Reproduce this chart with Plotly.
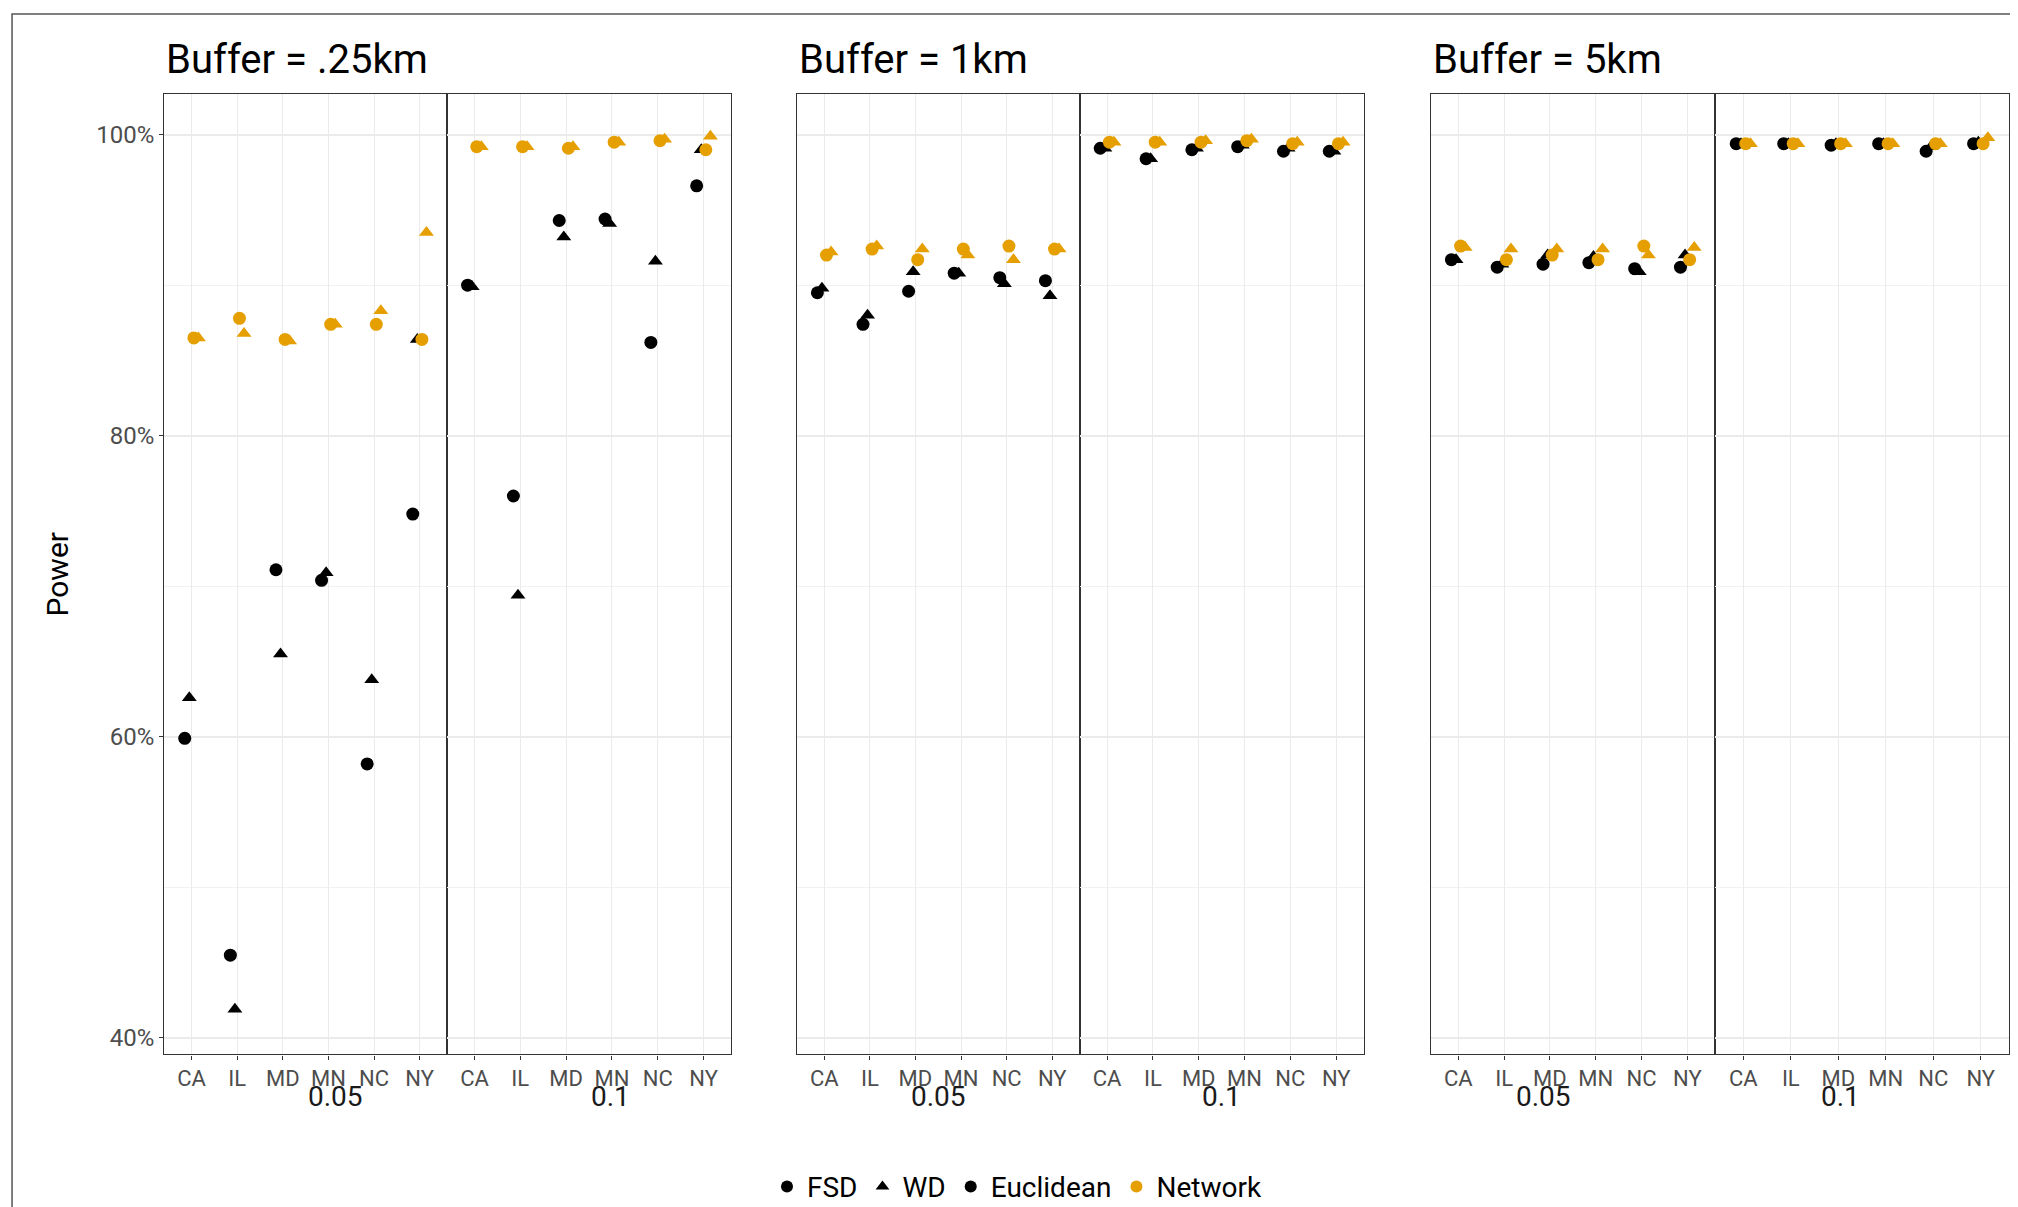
import plotly.graph_objects as go

states = ["CA", "IL", "MD", "MN", "NC", "NY"]
buffers = ["Buffer = .25km", "Buffer = 1km", "Buffer = 5km"]
alphas = ["0.05", "0.1"]

euc_fsd = {
 0: {"0.05": [59.9, 45.5, 71.1, 70.4, 58.2, 74.8], "0.1": [90.0, 76.0, 94.3, 94.4, 86.2, 96.6]},
 1: {"0.05": [89.5, 87.4, 89.6, 90.8, 90.5, 90.3], "0.1": [99.1, 98.4, 99.0, 99.2, 98.9, 98.9]},
 2: {"0.05": [91.7, 91.2, 91.4, 91.5, 91.1, 91.2], "0.1": [99.4, 99.4, 99.3, 99.4, 98.9, 99.4]},
}
euc_wd = {
 0: {"0.05": [62.6, 41.9, 65.5, 70.9, 63.8, 86.4], "0.1": [89.9, 69.4, 93.2, 94.1, 91.6, 99.0]},
 1: {"0.05": [89.8, 88.0, 90.9, 90.8, 90.1, 89.3], "0.1": [99.1, 98.4, 99.1, 99.3, 99.1, 98.9]},
 2: {"0.05": [91.7, 91.4, 92.0, 91.9, 90.9, 92.0], "0.1": [99.4, 99.4, 99.4, 99.4, 99.2, 99.5]},
}
net_fsd = {
 0: {"0.05": [86.5, 87.8, 86.4, 87.4, 87.4, 86.4], "0.1": [99.2, 99.2, 99.1, 99.5, 99.6, 99.0]},
 1: {"0.05": [92.0, 92.4, 91.7, 92.4, 92.6, 92.4], "0.1": [99.5, 99.5, 99.5, 99.6, 99.4, 99.4]},
 2: {"0.05": [92.6, 91.7, 92.0, 91.7, 92.6, 91.7], "0.1": [99.4, 99.4, 99.4, 99.4, 99.4, 99.4]},
}
net_wd = {
 0: {"0.05": [86.5, 86.8, 86.3, 87.4, 88.3, 93.5], "0.1": [99.2, 99.2, 99.2, 99.5, 99.7, 99.9]},
 1: {"0.05": [92.2, 92.6, 92.4, 92.0, 91.7, 92.4], "0.1": [99.5, 99.5, 99.6, 99.7, 99.5, 99.5]},
 2: {"0.05": [92.5, 92.4, 92.4, 92.4, 92.0, 92.5], "0.1": [99.4, 99.4, 99.4, 99.4, 99.4, 99.8]},
}
y_ticks = [40, 60, 80, 100]
y_ticktext = ["40%", "60%", "80%", "100%"]

BLACK = "#000000"
ORANGE = "#E69F00"
W, H = 1563.0, 940.0
xdoms = [(121, 340), (340, 560), (611, 830), (830, 1050), (1102, 1322), (1322, 1550)]
ydom = [1 - 815 / H, 1 - 67 / H]
YR = [38.9, 102.7]

fig = go.Figure()
series = [(euc_fsd, -0.15, "circle", BLACK), (euc_wd, -0.05, "triangle-up", BLACK),
          (net_fsd, 0.05, "circle", ORANGE), (net_wd, 0.15, "triangle-up", ORANGE)]
layout = {}
k = 0
for b in range(3):
    for a in alphas:
        k += 1
        xa = "x" if k == 1 else f"x{k}"
        ya = "y" if k == 1 else f"y{k}"
        for data, off, sym, col in series:
            fig.add_trace(go.Scatter(
                x=[i + off for i in range(6)], y=data[b][a], mode="markers",
                marker=dict(symbol=sym, color=col, size=13),
                xaxis=xa, yaxis=ya, showlegend=False, hoverinfo="y"))
        d = xdoms[k - 1]
        layout["xaxis" if k == 1 else f"xaxis{k}"] = dict(
            domain=[d[0] / W, d[1] / W], range=[-0.6, 5.6], tickvals=list(range(6)),
            ticktext=states, showgrid=True, gridcolor="#ebebeb", zeroline=False,
            showline=True, mirror=True, linecolor="#333333", linewidth=1.3,
            ticks="outside", ticklen=4, tickcolor="#333333",
            tickfont=dict(size=22, color="#4d4d4d"), anchor=ya)
        fig.add_annotation(text=a, x=(d[0] + d[1]) / 2 / W, y=1 - 862 / H, xref="paper",
                           yref="paper", showarrow=False, font=dict(size=28, color="#1a1a1a"))

for k in range(1, 7):
    key = "yaxis" if k == 1 else f"yaxis{k}"
    base = dict(domain=ydom, range=YR, tickvals=y_ticks,
                showgrid=True, gridcolor="#ebebeb", gridwidth=1.5, zeroline=False,
                minor=dict(tickvals=[50, 70, 90], showgrid=True, gridcolor="#f2f2f2", gridwidth=1),
                showline=True, mirror=True, linecolor="#333333", linewidth=1.3,
                anchor="x" if k == 1 else f"x{k}")
    if k == 1:
        base.update(ticktext=y_ticktext, ticks="outside", ticklen=4,
                    tickcolor="#333333", tickfont=dict(size=24, color="#4d4d4d"),
                    title=dict(text="Power", font=dict(size=30, color="#000"), standoff=18))
    else:
        base.update(showticklabels=False, ticks="")
    layout[key] = base

for b, t in enumerate(buffers):
    fig.add_annotation(text=t, x=xdoms[2 * b][0] / W, y=1 - 40 / H, xref="paper", yref="paper",
                       xanchor="left", yanchor="middle", showarrow=False,
                       font=dict(size=40, color="#000"))

for name, sym, col in [("FSD", "circle", BLACK), ("WD", "triangle-up", BLACK),
                       ("Euclidean", "circle", BLACK), ("Network", "circle", ORANGE)]:
    fig.add_trace(go.Scatter(x=[None], y=[None], mode="markers", name=name,
                             marker=dict(symbol=sym, color=col, size=12), showlegend=True))

fig.add_shape(type="rect", xref="paper", yref="paper", x0=0.002, x1=0.998, y0=-0.01, y1=0.995,
              line=dict(color="#555", width=1.5))

fig.update_layout(width=2018, height=1207, margin=dict(l=0, r=0, t=0, b=0),
                  plot_bgcolor="white", paper_bgcolor="white",
                  font=dict(family="Roboto, Liberation Sans, sans-serif"),
                  legend=dict(orientation="h", x=0.5, xanchor="center", y=1 - 918 / H,
                              yanchor="middle", font=dict(size=28, color="#000"),
                              itemsizing="constant"),
                  **layout)
fig.write_html("out.html")
